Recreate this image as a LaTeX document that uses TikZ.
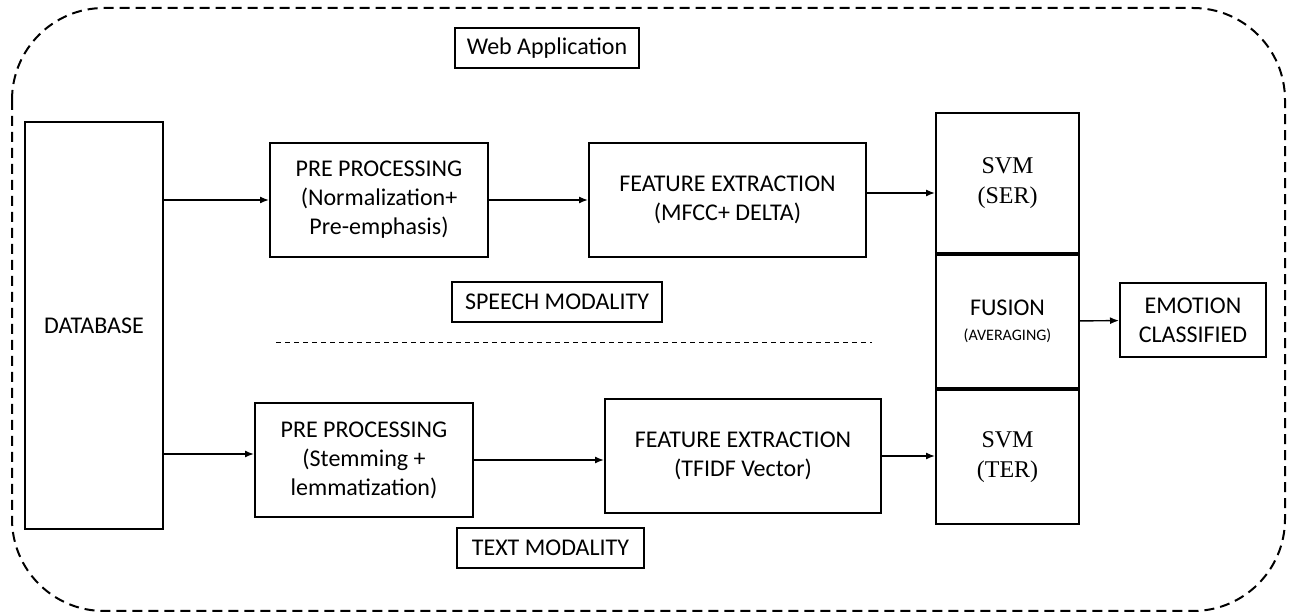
\documentclass[tikz,border=0pt]{standalone}
\usepackage{fontspec}
\setmainfont{Carlito}
\newfontfamily\svmfont{Liberation Serif}
\usetikzlibrary{arrows.meta,positioning}

\begin{document}
\begin{tikzpicture}[x=0.5pt,y=-0.5pt,>={Latex[length=4.5pt,width=3.5pt]},
  box/.style={draw,line width=1pt,align=center,inner sep=0pt,font=\fontsize{12}{14.5}\selectfont},
  flow/.style={->,line width=0.7pt},
  node distance=0pt]
  \useasboundingbox (0,0) rectangle (1290,613);
  % outer frame
  \draw[line width=1pt,dash pattern=on 5pt off 3pt,rounded corners=46pt] (12,8) rectangle (1285,611);

  \node (1) [box,minimum width=92pt,minimum height=20pt] at (547,48) {Web Application};
  \node (2) [box,minimum width=69pt,minimum height=203.5pt] at (94,325.5) {DATABASE};
  \node (3) [box,minimum width=109pt,minimum height=57pt] at (379,200)
    {PRE PROCESSING\\(Normalization+\\Pre-emphasis)};
  \node (4) [box,minimum width=138.5pt,minimum height=57pt] at (727.5,200)
    {FEATURE EXTRACTION\\(MFCC+ DELTA)};
  \node (5) [box,minimum width=71.5pt,minimum height=70pt,font=\svmfont\fontsize{12}{15}\selectfont] at (1007.5,183)
    {SVM\\(SER)};
  \node (6) [box,minimum width=71.5pt,minimum height=66.5pt,below=of 5]
    {FUSION\\[-2pt]{\fontsize{8}{10}\selectfont (AVERAGING)}};
  \node (7) [box,minimum width=71.5pt,minimum height=67pt,font=\svmfont\fontsize{12}{15}\selectfont,below=of 6]
    {SVM\\(TER)};
  \node (8) [box,minimum width=73pt,minimum height=37pt] at (1193,320) {EMOTION\\CLASSIFIED};
  \node (9) [box,minimum width=105pt,minimum height=20pt] at (557,302) {SPEECH MODALITY};
  \node (10) [box,minimum width=109pt,minimum height=57pt] at (364,460)
    {PRE PROCESSING\\(Stemming +\\lemmatization)};
  \node (11) [box,minimum width=138pt,minimum height=57pt] at (743,456)
    {FEATURE EXTRACTION\\(TFIDF Vector)};
  \node (12) [box,minimum width=93.5pt,minimum height=20pt] at (550.5,548) {TEXT MODALITY};

  % speech / text separator
  \draw[line width=0.5pt,dash pattern=on 2.5pt off 2pt] (276,343) -- (872,343);

  \draw[flow] (2.east |- 3.west) -- (3.west);
  \draw[flow] (2.east |- 0,454) -- (10.west |- 0,454);
  \draw[flow] (3) -- (4);
  \draw[flow] (10.east) -- (10.east -| 11.west);
  \draw[flow] (4.east |- 0,193) -- (5.west |- 0,193);
  \draw[flow] (11.east) -- (11.east -| 7.west);
  \draw[flow] (6) -- (8);
\end{tikzpicture}
\end{document}
